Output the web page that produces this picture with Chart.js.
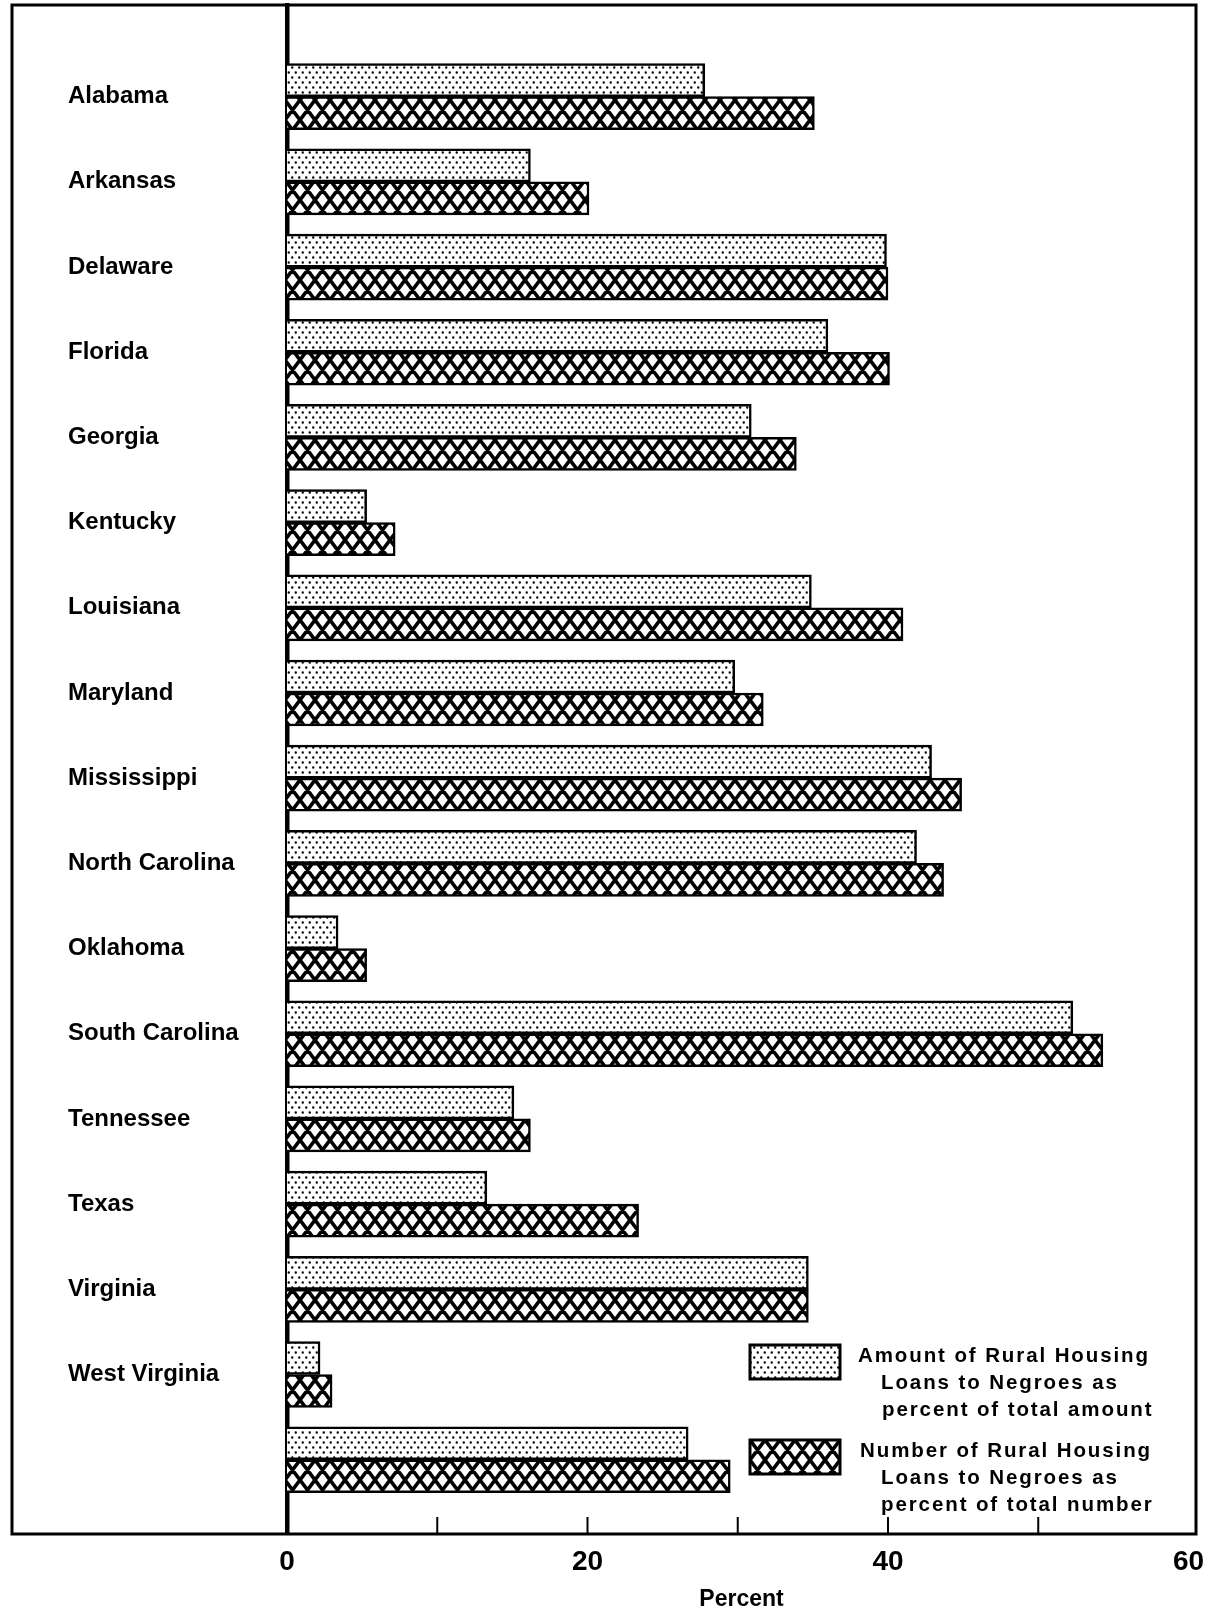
<!DOCTYPE html>
<html>
<head>
<meta charset="utf-8">
<script src="https://cdn.jsdelivr.net/npm/chart.js@4.4.1/dist/chart.umd.min.js"></script>
<style>
    body { margin: 0; background: #fff; }
    canvas { display: block; }
</style>
</head>
<body>
<canvas id="loanChart" width="1211" height="1607"></canvas>
<script>
// categories (last row is unlabeled in the original, all states)
var states = ["Alabama", "Arkansas", "Delaware", "Florida", "Georgia", "Kentucky",
    "Louisiana", "Maryland", "Mississippi", "North Carolina", "Oklahoma",
    "South Carolina", "Tennessee", "Texas", "Virginia", "West Virginia", ""];

// percent of total amount of rural housing loans
var amountPct = [27.8, 16.2, 39.9, 36.0, 30.9, 5.3, 34.9, 29.8, 42.9, 41.9, 3.4,
    52.3, 15.1, 13.3, 34.7, 2.2, 26.7];

// percent of total number of rural housing loans
var numberPct = [35.1, 20.1, 40.0, 40.1, 33.9, 7.2, 41.0, 31.7, 44.9, 43.7, 5.3,
    54.3, 16.2, 23.4, 34.7, 3.0, 29.5];

var xTicks = [0, 10, 20, 30, 40, 50, 60];
var xTickLabels = ["0", "", "20", "", "40", "", "60"];

var amountLegend = ["Amount of Rural Housing", "Loans to Negroes as", "percent of total amount"];
var numberLegend = ["Number of Rural Housing", "Loans to Negroes as", "percent of total number"];


function makeDotPattern() {
    var w = 7, h = 10;
    var c = document.createElement('canvas');
    c.width = w;
    c.height = h;
    var g = c.getContext('2d');
    g.fillStyle = '#fff';
    g.fillRect(0, 0, w, h);
    g.fillStyle = '#000';
    g.beginPath();
    g.arc(1.75, 2.5, 1.2, 0, Math.PI * 2);
    g.moveTo(6.45, 7.5);
    g.arc(5.25, 7.5, 1.2, 0, Math.PI * 2);
    g.fill();
    return g.createPattern(c, 'repeat');
}

function makeCrossPattern() {
    var w = 15, h = 20;
    var c = document.createElement('canvas');
    c.width = w;
    c.height = h;
    var g = c.getContext('2d');
    g.fillStyle = '#fff';
    g.fillRect(0, 0, w, h);
    g.strokeStyle = '#000';
    g.lineWidth = 3.6;
    g.beginPath();
    for (var i = -1; i <= 1; i++) {
        for (var j = -1; j <= 1; j++) {
            var ox = i * w, oy = j * h;
            g.moveTo(ox, oy); g.lineTo(ox + w, oy + h);
            g.moveTo(ox + w, oy); g.lineTo(ox, oy + h);
        }
    }
    g.stroke();
    return g.createPattern(c, 'repeat');
}

var dotFill = makeDotPattern();
var crossFill = makeCrossPattern();

var FRAME_LEFT = 12;

// outer frame, inward tick marks and the legend
var framePlugin = {
    id: 'framePlugin',
    afterDraw: function (chart) {
        var ctx = chart.ctx;
        var area = chart.chartArea;
        var xs = chart.scales.x;
        ctx.save();
        ctx.strokeStyle = '#000';
        ctx.lineWidth = 3;
        ctx.strokeRect(FRAME_LEFT, area.top, area.right - FRAME_LEFT, area.bottom - area.top);

        ctx.lineWidth = 2;
        xTicks.forEach(function (v) {
            if (v <= 0 || v >= 60) return;
            var px = xs.getPixelForValue(v);
            ctx.beginPath();
            ctx.moveTo(px, area.bottom);
            ctx.lineTo(px, area.bottom - 17);
            ctx.stroke();
        });

        // legend
        var items = [
            { fill: dotFill, lines: amountLegend, top: area.bottom - 189, indent: [0, 23, 24] },
            { fill: crossFill, lines: numberLegend, top: area.bottom - 94, indent: [2, 23, 23] }
        ];
        var boxX = area.right - 446;
        var textX = area.right - 338;
        ctx.font = 'bold 20.5px "Liberation Sans", Arial, sans-serif';
        ctx.letterSpacing = '1.9px';
        ctx.textBaseline = 'middle';
        ctx.textAlign = 'left';
        items.forEach(function (it) {
            ctx.fillStyle = it.fill;
            ctx.fillRect(boxX, it.top, 90, 34);
            ctx.lineWidth = 3;
            ctx.strokeRect(boxX, it.top, 90, 34);
            ctx.fillStyle = '#000';
            it.lines.forEach(function (t, i) {
                ctx.fillText(t, textX + it.indent[i], it.top + 11 + i * 27);
            });
        });
        ctx.restore();
    }
};

new Chart("loanChart", {
    type: "bar",
    data: {
        datasets: [
            {
                label: amountLegend.join(' '),
                data: states.map(function (s, i) { return { x: amountPct[i], y: i }; }),
                backgroundColor: dotFill,
                borderColor: '#000',
                borderWidth: 2.5,
                barThickness: 33
            },
            {
                label: numberLegend.join(' '),
                data: states.map(function (s, i) { return { x: numberPct[i], y: i }; }),
                backgroundColor: crossFill,
                borderColor: '#000',
                borderWidth: 2.5,
                barThickness: 33
            }
        ]
    },
    options: {
        indexAxis: 'y',
        responsive: false,
        animation: false,
        layout: {
            padding: { left: 68, right: 15, top: 5, bottom: 0 }
        },
        plugins: {
            legend: { display: false },
            tooltip: { enabled: false }
        },
        scales: {
            y: {
                type: 'linear',
                reverse: true,
                offset: false,
                min: -1.076,
                max: 16.872,
                afterBuildTicks: function (scale) {
                    scale.ticks = states.map(function (s, i) { return { value: i }; });
                },
                afterFit: function (scale) {
                    scale.width = 219;
                    scale.paddingTop = 0;
                    scale.paddingBottom = 0;
                },
                grid: { display: false, drawTicks: false, offset: false },
                border: { display: true, color: '#000', width: 4.5 },
                ticks: {
                    crossAlign: 'far',
                    padding: 0,
                    color: '#000',
                    font: { family: '"Liberation Sans", Arial, sans-serif', size: 24, weight: 'bold' },
                    callback: function (v) { return states[v]; }
                }
            },
            x: {
                type: 'linear',
                min: 0,
                max: 60.5,
                afterBuildTicks: function (scale) {
                    scale.ticks = xTicks.map(function (v) { return { value: v }; });
                },
                afterFit: function (scale) {
                    scale.height = 73;
                    scale.paddingLeft = 0;
                    scale.paddingRight = 0;
                },
                grid: { display: false, drawTicks: false },
                border: { display: false },
                ticks: {
                    padding: 11,
                    maxRotation: 0,
                    autoSkip: false,
                    color: '#000',
                    font: { family: '"Liberation Sans", Arial, sans-serif', size: 28, weight: 'bold' },
                    callback: function (v, i) { return xTickLabels[i]; }
                },
                title: {
                    display: true,
                    text: 'Percent',
                    color: '#000',
                    padding: { top: 0, bottom: -4 },
                    font: { family: '"Liberation Sans", Arial, sans-serif', size: 23, weight: 'bold', lineHeight: 1 }
                }
            }
        }
    },
    plugins: [framePlugin]
});
</script>
</body>
</html>
